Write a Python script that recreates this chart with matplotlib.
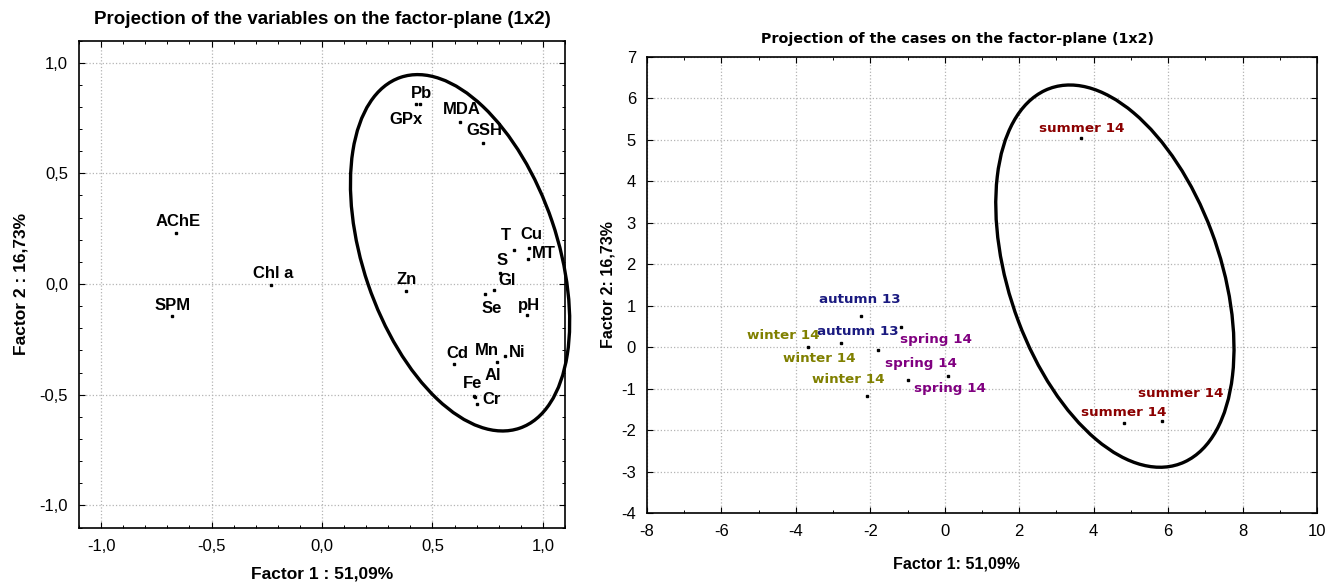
import numpy as np
import matplotlib
matplotlib.use("Agg")
import matplotlib.pyplot as plt
from matplotlib.patches import Ellipse
from matplotlib.ticker import FuncFormatter, MultipleLocator

plt.rcParams["axes.unicode_minus"] = False

# ---- data: variables (factor loadings) ----
var_names = ["AChE", "Chl a", "SPM", "Pb", "GPx", "MDA", "GSH", "T", "Cu", "MT",
             "S", "Gl", "Se", "pH", "Zn", "Cd", "Mn", "Ni", "Al", "Fe", "Cr"]
var_f1 = [-0.662, -0.231, -0.680, 0.443, 0.425, 0.624, 0.727, 0.870, 0.938, 0.934,
          0.805, 0.778, 0.739, 0.926, 0.380, 0.597, 0.790, 0.828, 0.692, 0.689, 0.700]
var_f2 = [0.232, -0.005, -0.145, 0.813, 0.813, 0.734, 0.637, 0.154, 0.164, 0.112,
          0.051, -0.027, -0.047, -0.140, -0.030, -0.362, -0.354, -0.326, -0.512, -0.505, -0.540]
# label offsets in pixels (dx, dy)
var_off = [(2, 11), (2, 12), (1, 11), (2, 11), (-10, -15), (2, 12), (2, 12), (-8, 14), (2, 13), (15, 6),
           (2, 12), (13, 9), (6, -14), (2, 9), (1, 11), (3, 11), (-10, 12), (12, 4), (18, 22), (-2, 12), (15, 4)]

# ---- data: cases (factor scores) ----
case_names = ["autumn 13", "autumn 13", "winter 14", "winter 14", "winter 14",
              "spring 14", "spring 14", "spring 14", "summer 14", "summer 14", "summer 14"]
case_f1 = [-2.26, -2.78, -3.67, -1.79, -2.10, -1.17, -0.98, 0.09, 3.67, 4.82, 5.84]
case_f2 = [0.76, 0.10, 0.00, -0.07, -1.17, 0.48, -0.79, -0.69, 5.05, -1.83, -1.78]
case_off = [(-1, 16), (17, 12), (-25, 12), (-59, -8), (-18, 16),
            (35, -12), (13, 17), (2, -13), (0, 9), (-1, 11), (19, 28)]
season_colors = {"autumn 13": "#1a1a80", "winter 14": "#808000",
                 "spring 14": "#800080", "summer 14": "#8b0000"}

W, H = 1325, 583
fig = plt.figure(figsize=(W / 100, H / 100), dpi=100)

def box(l, t, r, b):
    return [l / W, 1 - b / H, (r - l) / W, (b - t) / H]

ax1 = fig.add_axes(box(79, 40.5, 565, 527.5))
ax2 = fig.add_axes(box(647, 56.8, 1317, 513.3))

comma = FuncFormatter(lambda v, p: ("%.1f" % v).replace(".", ","))

for ax in (ax1, ax2):
    ax.tick_params(direction="in", top=True, right=True, length=4, width=0.8,
                   labelsize=12, pad=8)
    ax.tick_params(which="minor", direction="in", top=True, right=True, length=2.5, width=0.7)
    ax.grid(True, which="major", linestyle=":", color="#b4b4b4", linewidth=0.9)
    ax.set_axisbelow(True)
    for s in ax.spines.values():
        s.set_linewidth(1.2)

# left plot
ax1.set_xlim(-1.1, 1.1)
ax1.set_ylim(-1.1, 1.1)
ax1.xaxis.set_major_locator(MultipleLocator(0.5))
ax1.yaxis.set_major_locator(MultipleLocator(0.5))
ax1.xaxis.set_minor_locator(MultipleLocator(0.1))
ax1.yaxis.set_minor_locator(MultipleLocator(0.1))
ax1.xaxis.set_major_formatter(comma)
ax1.yaxis.set_major_formatter(comma)
ax1.plot(var_f1, var_f2, "s", color="black", markersize=1.6, linestyle="none")
for n, x, y, o in zip(var_names, var_f1, var_f2, var_off):
    ax1.annotate(n, (x, y), xytext=o, textcoords="offset pixels", ha="center", va="center",
                 fontsize=12, fontweight="bold", family="Liberation Sans")
ax1.add_patch(Ellipse((0.625, 0.141), 2 * 0.837, 2 * 0.440, angle=108.8, fill=False,
                      edgecolor="black", linewidth=2.4, clip_on=False))
ax1.set_title("Projection of the variables on the factor-plane (1x2)", fontsize=13.5,
              fontweight="bold", family="Liberation Sans", pad=12)
ax1.set_xlabel("Factor 1 : 51,09%", fontsize=12.5, fontweight="bold", family="Liberation Sans", labelpad=9)
ax1.set_ylabel("Factor 2 : 16,73%", fontsize=12.5, fontweight="bold", family="Liberation Sans", labelpad=8)

# right plot
ax2.set_xlim(-8, 10)
ax2.set_ylim(-4, 7)
ax2.xaxis.set_major_locator(MultipleLocator(2))
ax2.yaxis.set_major_locator(MultipleLocator(1))
ax2.xaxis.set_minor_locator(MultipleLocator(1))
ax2.plot(case_f1, case_f2, "s", color="black", markersize=1.6, linestyle="none")
for n, x, y, o in zip(case_names, case_f1, case_f2, case_off):
    ax2.annotate(n, (x, y), xytext=o, textcoords="offset pixels", ha="center", va="center",
                 fontsize=9.7, fontweight="bold", family="DejaVu Sans", color=season_colors[n])
ax2.add_patch(Ellipse((4.57, 1.715), 2 * 4.853, 2 * 2.811, angle=112.75, fill=False,
                      edgecolor="black", linewidth=2.4, clip_on=False))
ax2.set_title("Projection of the cases on the factor-plane (1x2)", fontsize=10.3,
              fontweight="bold", family="DejaVu Sans", pad=10, x=0.464)
ax2.set_xlabel("Factor 1: 51,09%", fontsize=11.5, fontweight="bold", family="Liberation Sans",
               labelpad=12, x=0.462)
ax2.set_ylabel("Factor 2: 16,73%", fontsize=11.5, fontweight="bold", family="Liberation Sans", labelpad=4)

for ax in (ax1, ax2):
    for lab in ax.get_xticklabels() + ax.get_yticklabels():
        lab.set_family("Liberation Sans")

fig.savefig("out.png", dpi=100)
